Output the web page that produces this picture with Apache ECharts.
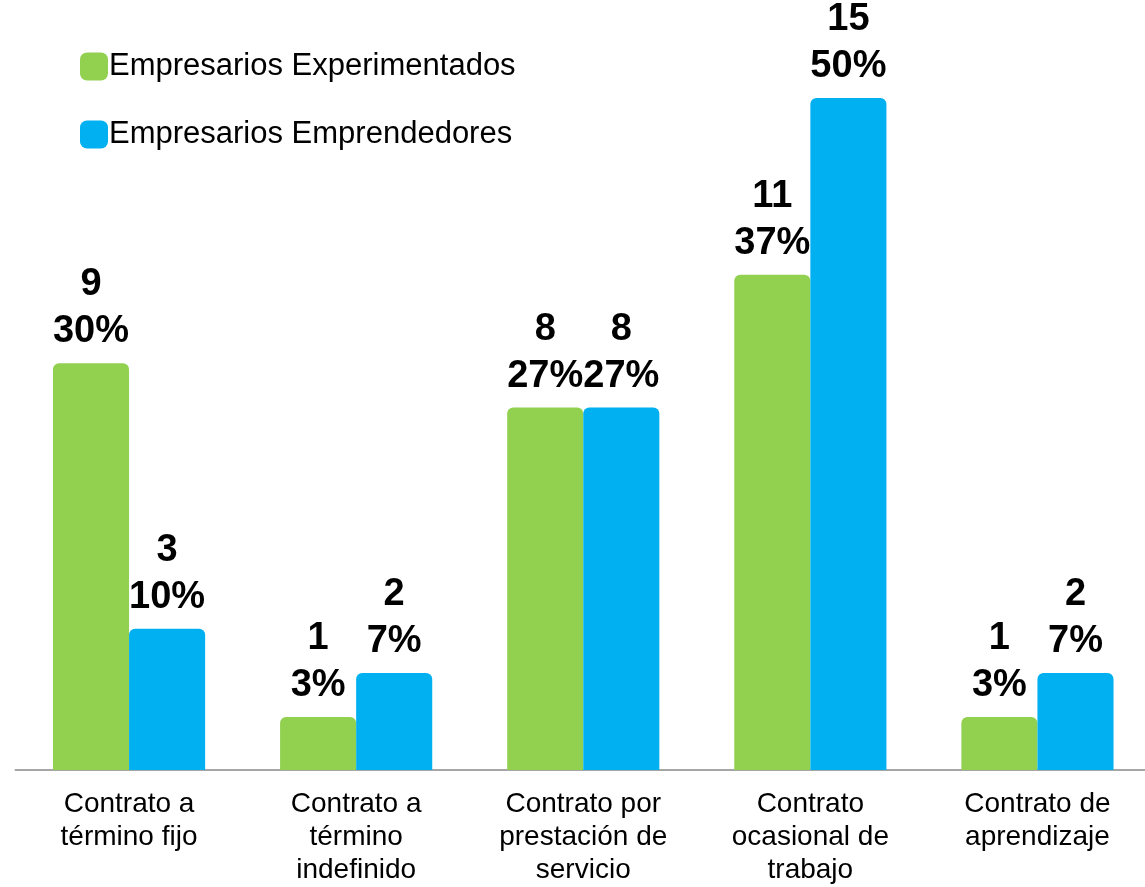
<!DOCTYPE html>
<html>
<head>
<meta charset="utf-8">
<script src="https://cdn.jsdelivr.net/npm/echarts@6/dist/echarts.min.js"></script>
<style>
  html, body { margin: 0; padding: 0; background: #ffffff; overflow: hidden; }
  #chart { width: 1151px; height: 887px; }
</style>
</head>
<body>
<div id="chart"></div>
<script>
// Tipos de contrato
const categories = [
  'Contrato a\ntérmino fijo',
  'Contrato a\ntérmino\nindefinido',
  'Contrato por\nprestación de\nservicio',
  'Contrato\nocasional de\ntrabajo',
  'Contrato de\naprendizaje'
];
const seriesNames = ['Empresarios Experimentados', 'Empresarios Emprendedores'];
const experimentados = [9, 1, 8, 11, 1];
const experimentadosPct = ['30%', '3%', '27%', '37%', '3%'];
const emprendedores = [3, 2, 8, 15, 2];
const emprendedoresPct = ['10%', '7%', '27%', '50%', '7%'];

const FONT = '"Liberation Sans", Arial, sans-serif';

function makeSeries(name, values, pcts, color) {
  return {
    name: name,
    type: 'bar',
    data: values,
    barGap: '0%',
    barCategoryGap: '33%',
    itemStyle: { color: color, borderRadius: [6, 6, 0, 0] },
    label: {
      show: true,
      position: 'top',
      distance: 8,
      formatter: p => p.value + '\n' + pcts[p.dataIndex],
      fontFamily: FONT,
      fontWeight: 'bold',
      fontSize: 38,
      lineHeight: 47,
      color: '#000000'
    }
  };
}

const chart = echarts.init(document.getElementById('chart'));
chart.setOption({
  backgroundColor: '#ffffff',
  animation: false,
  legend: {
    orient: 'vertical',
    left: 80,
    top: 51,
    padding: 0,
    itemWidth: 28,
    itemHeight: 28,
    itemGap: 37,
    icon: 'roundRect',
    textStyle: { fontFamily: FONT, fontSize: 31, color: '#000000', padding: [0, 0, 0, -4] },
    data: seriesNames
  },
  grid: { left: 15.5, right: 0, top: 53.7, bottom: 116, containLabel: false },
  xAxis: {
    type: 'category',
    data: categories,
    axisTick: { show: false },
    axisLine: { onZero: false, lineStyle: { color: '#a6a6a6', width: 2 } },
    axisLabel: {
      interval: 0,
      margin: 18,
      fontFamily: FONT,
      fontSize: 28,
      lineHeight: 33,
      color: '#000000'
    },
    z: 1
  },
  yAxis: {
    type: 'value',
    min: -0.196,
    max: 16,
    startValue: -0.196,
    show: false,
    splitLine: { show: false }
  },
  series: [
    makeSeries(seriesNames[0], experimentados, experimentadosPct, '#92d050'),
    makeSeries(seriesNames[1], emprendedores, emprendedoresPct, '#00b0f0')
  ]
});
</script>
</body>
</html>
